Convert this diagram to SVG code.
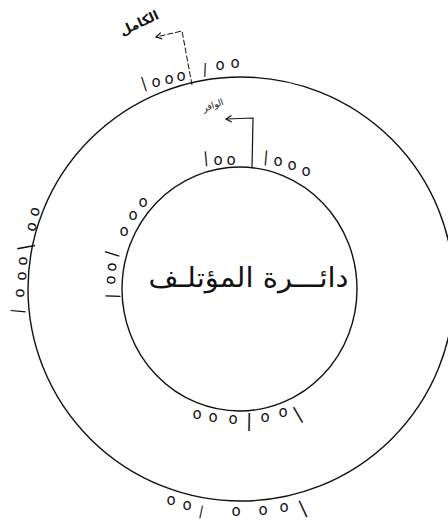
<svg xmlns="http://www.w3.org/2000/svg" width="448" height="521" viewBox="0 0 448 521">
<defs>
<style>
.ring{fill:none;stroke:#111;stroke-width:1.4}
.m{font-family:"DejaVu Sans",sans-serif;font-size:15px;fill:#111}
.ar{font-family:"DejaVu Sans",sans-serif;fill:#111;text-anchor:middle}
.conn{fill:none;stroke:#111;stroke-width:1.2}
.dash{stroke-dasharray:6 2;stroke-width:1}
</style>
<marker id="ah" viewBox="0 0 10 10" refX="9" refY="5" markerWidth="8" markerHeight="8" orient="auto" markerUnits="userSpaceOnUse">
<path d="M2,1 L9,5 L2,9" fill="none" stroke="#111" stroke-width="1.5"/>
</marker>
</defs>
<rect width="448" height="521" fill="#fff"/>

<g id="outer-circle"><ellipse class="ring" cx="241" cy="289" rx="213" ry="212"/></g>
<g id="inner-circle"><ellipse class="ring" cx="239.5" cy="289" rx="117.5" ry="122"/></g>

<g id="center-label"><text class="ar" x="248.5" y="287" font-size="27" direction="rtl" textLength="200" lengthAdjust="spacingAndGlyphs">دائـــرة المؤتلـف</text></g>
<g id="label-kamil"><text class="ar" font-weight="bold" font-size="13" direction="rtl" transform="translate(141,27) rotate(-25)">الكامل</text></g>
<g id="label-wafir"><text class="ar" font-size="9" direction="rtl" transform="translate(214,108) rotate(-20)">الوافر</text></g>

<g id="connectors">
<path class="conn dash" d="M192,85 L182,31 L156,37" marker-end="url(#ah)"/>
<path class="conn" d="M252,168 L253,118 L226,119" marker-end="url(#ah)"/>
</g>

<g id="marks-outer-top">
<text class="m"><tspan x="142.8" y="88.5" rotate="-18">|</tspan><tspan x="151.4" y="87.1">o</tspan><tspan x="164.4" y="84.1">o</tspan><tspan x="176.4" y="81.1">o</tspan><tspan x="202.5" y="73.6" rotate="2" font-size="14">|</tspan><tspan x="215.4" y="70.1">o</tspan><tspan x="230.4" y="68.1">o</tspan></text>
</g>
<g id="marks-inner-top">
<text class="m"><tspan x="203.8" y="163.1" rotate="-5">|</tspan><tspan x="213.4" y="165.1">o</tspan><tspan x="226.4" y="165.1">o</tspan><tspan x="263.1" y="161.7" rotate="5">|</tspan><tspan x="273.4" y="166.1">o</tspan><tspan x="287.4" y="170.1">o</tspan><tspan x="301.4" y="176.1">o</tspan></text>
</g>
<g id="marks-inner-left">
<text class="m"><tspan x="116.8" y="298.7" rotate="-88">|</tspan><tspan x="114.7" y="284.9" rotate="-85">o</tspan><tspan x="115.7" y="271.9" rotate="-85">o</tspan><tspan x="115.0" y="257.6" rotate="-72">|</tspan><tspan x="119.4" y="236.1">o</tspan><tspan x="128.4" y="220.1">o</tspan><tspan x="138.4" y="207.1">o</tspan></text>
</g>
<g id="marks-outer-left">
<text class="m"><tspan x="21.7" y="313.9" rotate="-85">|</tspan><tspan x="23.9" y="297.7" rotate="-88">o</tspan><tspan x="25.9" y="280.7" rotate="-88">o</tspan><tspan x="26.9" y="265.7" rotate="-88">o</tspan><tspan x="31.2" y="249.2" rotate="-100" font-size="18">|</tspan><tspan x="34.5" y="232.6" rotate="-72">o</tspan><tspan x="37.5" y="217.6" rotate="-72">o</tspan></text>
</g>
<g id="marks-inner-bottom">
<text class="m"><tspan x="192.4" y="419.1">o</tspan><tspan x="208.4" y="422.1">o</tspan><tspan x="228.4" y="424.1">o</tspan><tspan x="245.9" y="426.7" rotate="1" font-size="18">|</tspan><tspan x="260.4" y="422.1">o</tspan><tspan x="278.4" y="417.1">o</tspan><tspan x="297.7" y="420.6" rotate="-30" font-size="18">|</tspan></text>
</g>
<g id="marks-outer-bottom">
<text class="m"><tspan x="166.4" y="505.1">o</tspan><tspan x="182.4" y="510.1">o</tspan><tspan x="198.2" y="514.9" rotate="12" font-size="13">|</tspan><tspan x="231.4" y="516.1">o</tspan><tspan x="258.4" y="515.1">o</tspan><tspan x="279.4" y="512.1">o</tspan><tspan x="302.3" y="514.6" rotate="-25" font-size="18">|</tspan></text>
</g>
</svg>
